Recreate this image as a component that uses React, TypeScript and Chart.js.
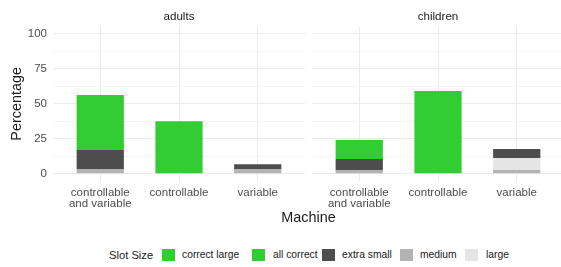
import React, { useEffect, useRef } from 'react';
import { Chart, registerables } from 'chart.js';
Chart.register(...registerables);

const FONT = '"Liberation Sans", Arial, Helvetica, sans-serif';

// categories
const machines: (string | string[])[] = [['controllable', 'and variable'], 'controllable', 'variable'];
const panels = ['adults', 'children'];
const slotSizes = ['correct large', 'all correct', 'extra small', 'medium', 'large'];
const slotColors = ['#32CD32', '#32CD32', '#4D4D4D', '#B3B3B3', '#E5E5E5'];

// values per machine: [controllable and variable, controllable, variable]
const adultsCorrectLarge = [39.4, null, null];
const adultsAllCorrect = [null, 37.6, null];
const adultsExtraSmall = [13.6, null, 3.5];
const adultsMedium = [3.3, null, 3.3];
const adultsLarge = [null, null, null];

const childrenCorrectLarge = [13.6, null, null];
const childrenAllCorrect = [null, 59.2, null];
const childrenExtraSmall = [7.9, null, 6.5];
const childrenMedium = [2.6, null, 2.6];
const childrenLarge = [null, null, 8.6];

// tick labels
const yMajorTicks = [0, 25, 50, 75, 100];
const yMinorTicks = [12.5, 37.5, 62.5, 87.5];

type Series = (number | null)[][]; // in slotSizes order

function buildChart(canvas: HTMLCanvasElement, series: Series, showY: boolean) {
  // stacking order bottom -> top: medium, large, extra small, all correct, correct large
  const order = [3, 4, 2, 1, 0];
  const datasets = order.map((k) => ({
    label: slotSizes[k],
    data: series[k].map((v, i) => ({ x: i + 1, y: v })),
    backgroundColor: slotColors[k],
    borderWidth: 0,
    barPercentage: 0.6,
    categoryPercentage: 1,
  }));
  const allY = [...yMajorTicks, ...yMinorTicks].sort((a, b) => a - b);
  return new Chart(canvas, {
    type: 'bar',
    data: { datasets } as any,
    options: {
      animation: false,
      responsive: false,
      devicePixelRatio: 1,
      layout: { padding: { top: 27, left: 0, right: 0, bottom: 0 } },
      plugins: {
        legend: { display: false },
        tooltip: { enabled: false },
        title: { display: false },
      },
      scales: {
        x: {
          type: 'linear',
          stacked: true,
          min: 0.4,
          max: 3.6,
          offset: false,
          afterBuildTicks: (s: any) => {
            s.ticks = machines.map((_, i) => ({ value: i + 1 }));
          },
          afterFit: (s: any) => {
            s.height = 30.3;
          },
          grid: { color: '#EBEBEB', lineWidth: 1, drawTicks: false, offset: false },
          border: { display: false },
          ticks: {
            autoSkip: false,
            maxRotation: 0,
            minRotation: 0,
            padding: 7,
            color: '#4D4D4D',
            font: { family: FONT, size: 11.5, lineHeight: 0.96 },
            callback: (v: any) => machines[Math.round(v) - 1] as any,
          },
        },
        y: {
          type: 'linear',
          stacked: true,
          min: -5,
          max: 105,
          afterBuildTicks: (s: any) => {
            s.ticks = allY.map((v) => ({ value: v }));
          },
          afterFit: (s: any) => {
            s.width = showY ? 53 : 0;
          },
          grid: {
            color: (ctx: any) => (yMajorTicks.includes(ctx.tick?.value) ? '#EBEBEB' : '#F2F2F2'),
            lineWidth: (ctx: any) => (yMajorTicks.includes(ctx.tick?.value) ? 1 : 0.8),
            drawTicks: false,
          },
          border: { display: false },
          ticks: {
            display: showY,
            padding: 6,
            color: '#4D4D4D',
            font: { family: FONT, size: 11.5 },
            callback: (v: any) => (yMajorTicks.includes(v) ? String(v) : ''),
          },
          title: {
            display: showY,
            text: 'Percentage',
            color: '#1A1A1A',
            font: { family: FONT, size: 14.4 },
            padding: { top: 8, bottom: 0 },
          },
        },
      },
    } as any,
  });
}

const textStyle = (size: number, color: string): React.CSSProperties => ({
  position: 'absolute',
  fontFamily: FONT,
  fontSize: size,
  color,
  whiteSpace: 'nowrap',
});

export default function App() {
  const leftRef = useRef<HTMLCanvasElement>(null);
  const rightRef = useRef<HTMLCanvasElement>(null);

  useEffect(() => {
    const a = buildChart(
      leftRef.current!,
      [adultsCorrectLarge, adultsAllCorrect, adultsExtraSmall, adultsMedium, adultsLarge],
      true
    );
    const b = buildChart(
      rightRef.current!,
      [childrenCorrectLarge, childrenAllCorrect, childrenExtraSmall, childrenMedium, childrenLarge],
      false
    );
    return () => {
      a.destroy();
      b.destroy();
    };
  }, []);

  const legendKeys = [162, 252, 322, 400, 465];
  const legendLabels = [182, 273, 342, 420, 486];

  return (
    <div
      style={{
        position: 'fixed',
        left: 0,
        top: 0,
        width: 561,
        height: 267,
        overflow: 'hidden',
        background: '#FFFFFF',
      }}
    >
      <canvas
        ref={leftRef}
        width={305}
        height={211}
        style={{ position: 'absolute', left: 0, top: 0, width: 305, height: 211 }}
      />
      <canvas
        ref={rightRef}
        width={252}
        height={211}
        style={{ position: 'absolute', left: 312, top: 0, width: 252, height: 211 }}
      />
      {/* facet strips */}
      <div style={{ ...textStyle(11.6, '#1A1A1A'), left: 53, width: 252, top: 8, height: 16, lineHeight: '16px', textAlign: 'center' }}>
        {panels[0]}
      </div>
      <div style={{ ...textStyle(11.6, '#1A1A1A'), left: 312, width: 252, top: 8, height: 16, lineHeight: '16px', textAlign: 'center' }}>
        {panels[1]}
      </div>
      {/* x axis title */}
      <div style={{ ...textStyle(14.4, '#1A1A1A'), left: 53, width: 511, top: 207, height: 20, lineHeight: '20px', textAlign: 'center' }}>
        Machine
      </div>
      {/* legend */}
      <div style={{ ...textStyle(11.2, '#1A1A1A'), left: 109, top: 247, height: 16, lineHeight: '16px' }}>Slot Size</div>
      {slotSizes.map((s, i) => (
        <React.Fragment key={s}>
          <div
            style={{
              position: 'absolute',
              left: legendKeys[i],
              top: 248.5,
              width: 12.5,
              height: 12.5,
              background: slotColors[i],
            }}
          />
          <div style={{ ...textStyle(10.3, '#1A1A1A'), left: legendLabels[i], top: 247, height: 16, lineHeight: '16px' }}>
            {s}
          </div>
        </React.Fragment>
      ))}
    </div>
  );
}
